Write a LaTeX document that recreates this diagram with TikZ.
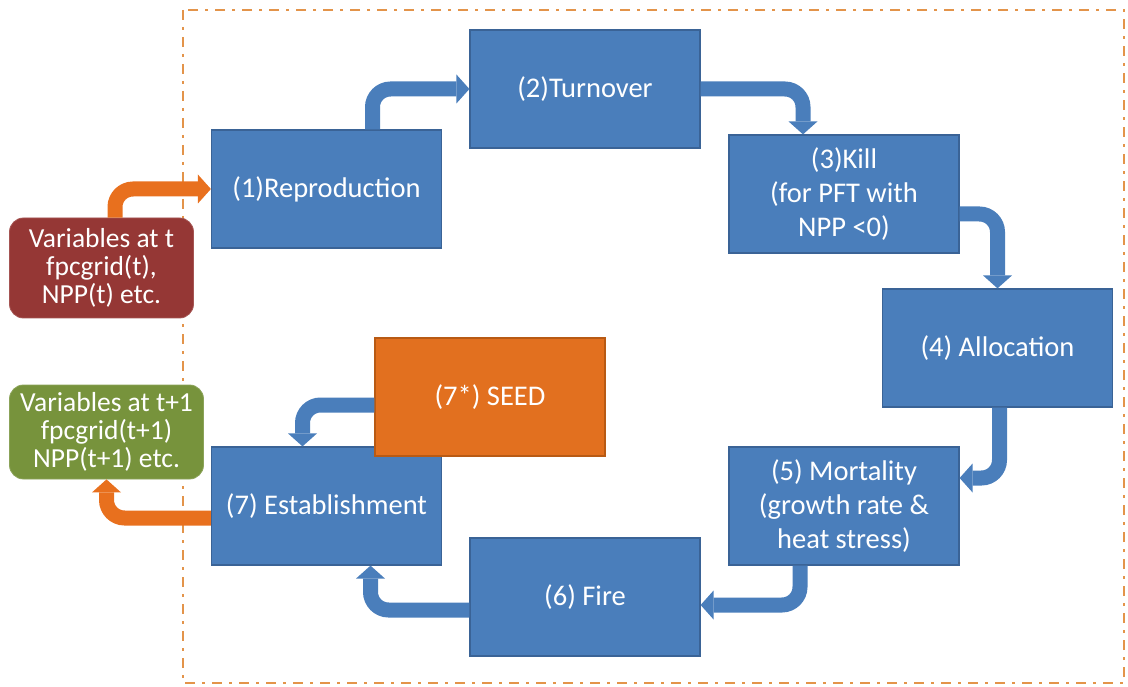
\documentclass[tikz,border=0pt]{standalone}
\usepackage{fontspec}
\setmainfont{Carlito}
\usetikzlibrary{arrows.meta}
\definecolor{boxblue}{HTML}{4A7EBB}
\definecolor{boxblueedge}{HTML}{3A6396}
\definecolor{seedorange}{HTML}{E2701F}
\definecolor{seededge}{HTML}{B85A14}
\definecolor{arroworange}{HTML}{E8701E}
\definecolor{varred}{HTML}{953735}
\definecolor{vargreen}{HTML}{77933C}
\definecolor{frameorange}{HTML}{E3944A}
\begin{document}
\begin{tikzpicture}[x=1pt,y=-1pt,
  bluebox/.style={rectangle, fill=boxblue, draw=boxblueedge, line width=1.2pt,
    minimum width=230pt, minimum height=118pt, inner sep=0pt, text=white,
    align=center, font=\fontsize{28.5}{34}\selectfont},
  seedbox/.style={bluebox, fill=seedorange, draw=seededge},
  varbox/.style={rectangle, rounded corners=14pt, inner sep=0pt, text=white,
    align=center, font=\fontsize{27.5}{28}\selectfont, line width=0.8pt},
  barrow/.style={draw=boxblue, line width=15pt, rounded corners=18pt,
    -{Triangle[width=29pt,length=13pt,line width=0pt]}},
  oarrow/.style={barrow, draw=arroworange},
  frameline/.style={draw=frameorange, line width=2.8pt,
    dash pattern=on 10pt off 7pt on 3pt off 7pt}
]
\useasboundingbox (0,0) rectangle (1128,687);
\draw[frameline] (183,10) rectangle (1124,683);

\node[bluebox] (n1) at (326.5,189) {(1)Reproduction};
\node[bluebox] (n2) at (585,89) {(2)Turnover};
\node[bluebox] (n3) at (844,194) {(3)Kill\\(for PFT with\\NPP <0)};
\node[bluebox] (n4) at (997.5,348) {(4) Allocation};
\node[bluebox] (n5) at (844,506) {(5) Mortality\\(growth rate \&\\heat stress)};
\node[bluebox] (n6) at (585,597) {(6) Fire};
\node[bluebox] (n7) at (326.5,506) {(7) Establishment};
\node[seedbox] (n7s) at (490,397) {(7*) SEED};

\node[varbox, fill=varred, draw=varred!85!white, minimum width=184pt, minimum height=100pt]
  (vt) at (101.5,268) {Variables at t\\fpcgrid(t),\\NPP(t) etc.};
\node[varbox, fill=vargreen, draw=vargreen!85!white, minimum width=194pt, minimum height=94pt]
  (vt1) at (106.5,432) {Variables at t+1\\fpcgrid(t+1)\\NPP(t+1) etc.};

\draw[barrow] ([xshift=46pt]n1.north) |- (n2.west);
\draw[barrow] (n2.east) -| ([xshift=-41pt]n3.north);
\draw[barrow] ([yshift=-20pt]n3.east) -| (n4.north);
\draw[barrow] ([xshift=2pt]n4.south) |- ([yshift=28pt]n5.east);
\draw[barrow] ([xshift=-44pt]n5.south) |- ([yshift=-8pt]n6.east);
\draw[barrow] ([yshift=-13pt]n6.west) -| ([xshift=44pt]n7.south);
\draw[barrow] ([yshift=-8pt]n7s.west) -| ([xshift=-24pt]n7.north);

\draw[oarrow] ([xshift=13.5pt]vt.north) |- (n1.west);
\draw[oarrow] ([yshift=-12pt]n7.west) -| (vt1.south);
\end{tikzpicture}
\end{document}
